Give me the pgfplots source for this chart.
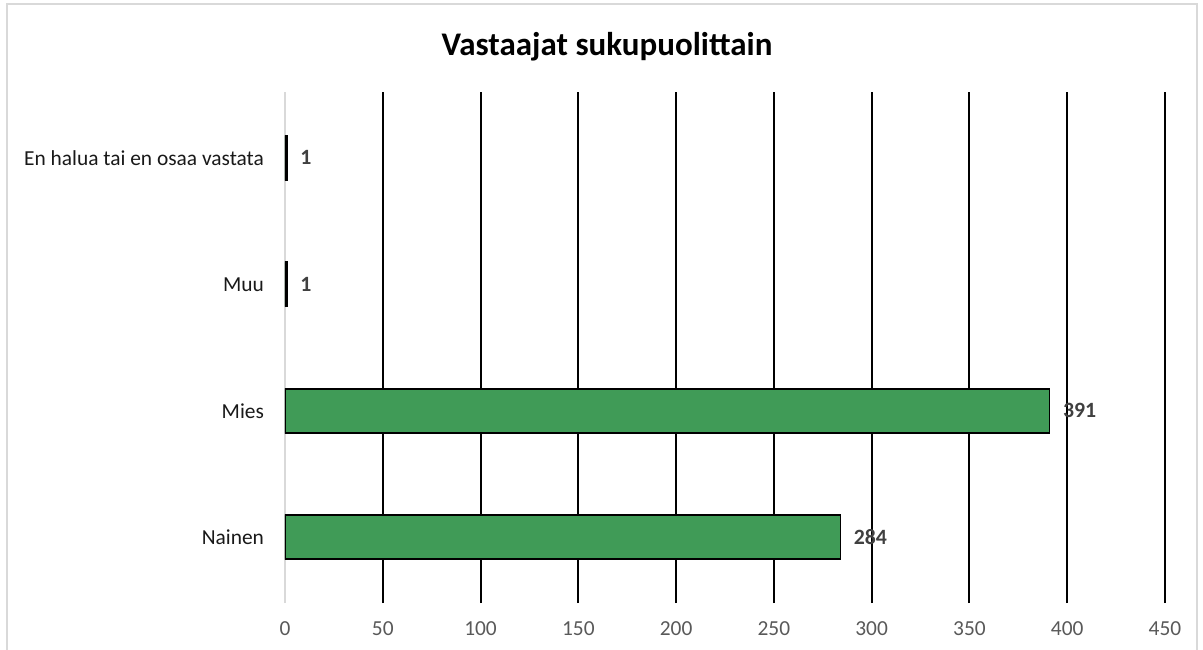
\documentclass[border=0pt]{standalone}
\usepackage{fontspec}
\setmainfont{Carlito}
\usepackage{pgfplots}
\pgfplotsset{compat=1.18}
\definecolor{barg}{HTML}{409B57}
\definecolor{tickgray}{HTML}{595959}
\definecolor{lblgray}{HTML}{404040}
\definecolor{framegray}{HTML}{D9D9D9}
\begin{document}
\begin{tikzpicture}
\begin{axis}[
  at={(0,0)}, anchor=south west,
  scale only axis,
  width=440pt, height=255.5pt,
  xbar, bar width=22pt,
  xmin=0, xmax=450,
  ymin=-0.52, ymax=3.52,
  xtick={0,50,...,450},
  extra x ticks={50,100,...,450},
  extra x tick labels={},
  extra x tick style={grid=major},
  major grid style={black, line width=1pt},
  ytick={0,1,2,3},
  yticklabels={Nainen,Mies,Muu,En halua tai en osaa vastata},
  major tick length=0pt,
  axis x line*=bottom, axis y line*=left,
  x axis line style={draw=none},
  y axis line style={draw=framegray, line width=0.6pt},
  /pgf/number format/assume math mode=true,
  xticklabel style={font=\fontsize{10.7}{13}\selectfont, color=tickgray, yshift=-6pt},
  yticklabel style={font=\fontsize{10.7}{13}\selectfont, color=black!90, xshift=-7pt},
  nodes near coords,
  every node near coord/.append style={anchor=west, xshift=3pt, font=\fontsize{10.9}{13}\selectfont\bfseries, color=lblgray},
]
\addplot[fill=barg, draw=black, line width=0.8pt] coordinates {(284,0) (391,1) (1,2) (1,3)};
\end{axis}
\draw[framegray, line width=0.8pt] (-139pt,-30pt) -- (-139pt,299.5pt) -- (456pt,299.5pt) -- (456pt,-30pt);
\node[anchor=base, font=\fontsize{16.5}{20}\selectfont\bfseries] at (161pt,273.5pt) {Vastaajat sukupuolittain};
\pgfresetboundingbox
\useasboundingbox (-142.5pt,-23pt) rectangle (459pt,301.5pt);
\end{tikzpicture}
\end{document}
